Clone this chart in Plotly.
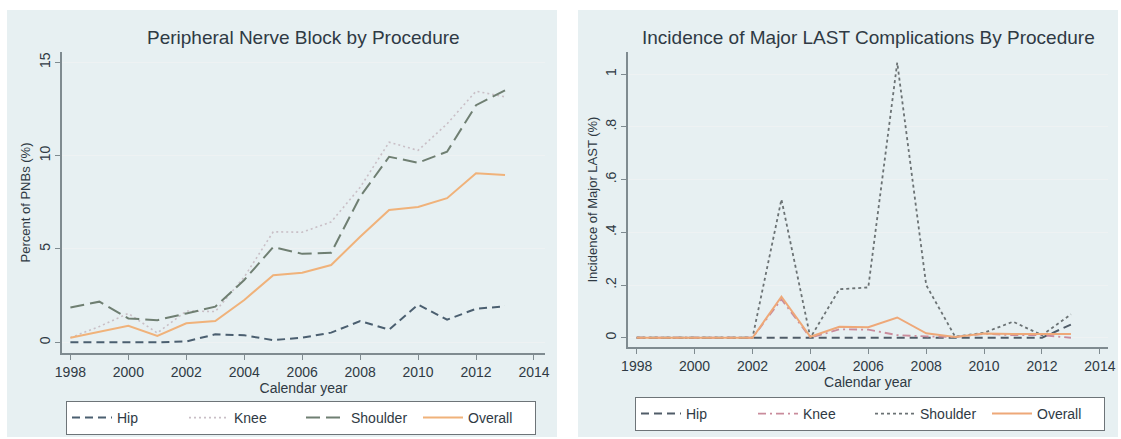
import plotly.graph_objects as go

W, H = 1121, 439

years = list(range(1998, 2014))

# Peripheral nerve block use by procedure (% of cases)
pnb_hip = [0, 0, 0, 0, 0.05, 0.43, 0.38, 0.12, 0.25, 0.52, 1.14, 0.68, 2.02, 1.21, 1.8, 1.93]
pnb_knee = [0.25, 0.85, 1.55, 0.5, 1.68, 1.65, 3.5, 5.92, 5.9, 6.45, 8.3, 10.72, 10.28, 11.7, 13.45, 13.15]
pnb_shoulder = [1.87, 2.18, 1.28, 1.19, 1.55, 1.91, 3.34, 5.1, 4.74, 4.8, 7.8, 9.94, 9.62, 10.21, 12.7, 13.5]
pnb_overall = [0.25, 0.57, 0.89, 0.34, 1.02, 1.14, 2.27, 3.6, 3.73, 4.14, 5.66, 7.09, 7.25, 7.72, 9.06, 8.96]

# Incidence of major LAST complications by procedure (%)
last_hip = [0, 0, 0, 0, 0, 0, 0, 0, 0, 0, 0, 0, 0, 0, 0, 0.05]
last_knee = [0, 0, 0, 0, 0, 0.146, 0, 0.032, 0.031, 0.01, 0.005, 0.003, 0.015, 0.01, 0.01, 0]
last_shoulder = [0, 0, 0, 0, 0, 0.525, 0, 0.184, 0.191, 1.044, 0.2, 0.004, 0.019, 0.061, 0.01, 0.089]
last_overall = [0, 0, 0, 0, 0, 0.156, 0.004, 0.042, 0.04, 0.077, 0.017, 0.003, 0.016, 0.014, 0.014, 0.014]

xticks = list(range(1998, 2015, 2))
left_yticks = [0, 5, 10, 15]
right_yticks = [0, 0.2, 0.4, 0.6, 0.8, 1.0]
right_yticktext = ["0", ".2", ".4", ".6", ".8", "1"]

FONT = "Liberation Sans, Arial, sans-serif"
TXT = "#2f3a44"
PANEL_BG = "#e7f0f2"
AXIS = "#7f8b90"
GRID = "#eef2f3"


def px(x):
    return x / W


def py(y):
    return 1 - y / H


fig = go.Figure()

left = [
    ("Hip", pnb_hip, "#4b5f70", "8px,5px", 2),
    ("Knee", pnb_knee, "#c9bfc6", "2px,3px", 1.6),
    ("Shoulder", pnb_shoulder, "#6f7f72", "14px,6px", 2),
    ("Overall", pnb_overall, "#f0b27a", "solid", 2),
]
for name, vals, color, dash, w in left:
    fig.add_trace(go.Scatter(
        x=years, y=vals, name=name, mode="lines",
        line=dict(color=color, dash=dash, width=w),
        xaxis="x", yaxis="y", legend="legend",
    ))

right = [
    ("Hip", last_hip, "#505c68", "8px,5px", 2),
    ("Knee", last_knee, "#c98c9c", "8px,4px,2px,4px", 1.8),
    ("Shoulder", last_shoulder, "#6b7274", "3px,3px", 1.8),
    ("Overall", last_overall, "#eea878", "solid", 2),
]
for name, vals, color, dash, w in right:
    fig.add_trace(go.Scatter(
        x=years, y=vals, name=name, mode="lines",
        line=dict(color=color, dash=dash, width=w),
        xaxis="x2", yaxis="y2", legend="legend2",
    ))

axis_common = dict(
    showline=True, linecolor=AXIS, linewidth=1.5,
    ticks="outside", ticklen=5, tickcolor=AXIS, tickwidth=1.3,
    tickfont=dict(family=FONT, size=14, color=TXT),
    zeroline=False,
)

legend_common = dict(
    orientation="h", xanchor="left", yanchor="top",
    bgcolor="white", bordercolor="#6d7478", borderwidth=1,
    font=dict(size=14, color=TXT), entrywidth=62, itemwidth=40,
)

fig.update_layout(
    width=W, height=H, autosize=False,
    margin=dict(l=0, r=0, t=0, b=0, autoexpand=False),
    paper_bgcolor="white", plot_bgcolor="white",
    font=dict(family=FONT, color=TXT),
    xaxis=dict(
        domain=[px(62), px(545)], range=[1997.71, 2014.38],
        tickvals=xticks, showgrid=False, anchor="y",
        title=dict(text="Calendar year", font=dict(size=14), standoff=1),
        **axis_common,
    ),
    yaxis=dict(
        domain=[py(353), py(52)], range=[-0.57, 15.55],
        tickvals=left_yticks, tickangle=-90, anchor="x",
        showgrid=True, gridcolor=GRID, gridwidth=1,
        title=dict(text="Percent of PNBs (%)", font=dict(size=13), standoff=3),
        **axis_common,
    ),
    xaxis2=dict(
        domain=[px(628), px(1108)], range=[1997.7, 2014.28],
        tickvals=xticks, showgrid=False, anchor="y2",
        title=dict(text="Calendar year", font=dict(size=14), standoff=1),
        **axis_common,
    ),
    yaxis2=dict(
        domain=[py(347), py(52)], range=[-0.035, 1.084],
        tickvals=right_yticks, ticktext=right_yticktext, tickangle=-90,
        anchor="x2", showgrid=True, gridcolor=GRID, gridwidth=1,
        title=dict(text="Incidence of Major LAST (%)", font=dict(size=13), standoff=2),
        **axis_common,
    ),
    legend=dict(x=px(66), y=py(401), **legend_common),
    legend2=dict(x=px(635), y=py(397), **legend_common),
    shapes=[
        dict(type="rect", xref="paper", yref="paper", layer="below",
             x0=px(7), x1=px(557), y0=py(437), y1=py(10),
             fillcolor=PANEL_BG, line=dict(width=0)),
        dict(type="rect", xref="paper", yref="paper", layer="below",
             x0=px(578), x1=px(1118), y0=py(437), y1=py(10),
             fillcolor=PANEL_BG, line=dict(width=0)),
    ],
    annotations=[
        dict(text="Peripheral Nerve Block by Procedure", x=px(303), y=py(37),
             xref="paper", yref="paper", showarrow=False,
             xanchor="center", yanchor="middle",
             font=dict(size=19, color=TXT)),
        dict(text="Incidence of Major LAST Complications By Procedure", x=px(868), y=py(37),
             xref="paper", yref="paper", showarrow=False,
             xanchor="center", yanchor="middle",
             font=dict(size=19, color=TXT)),
    ],
)

fig.write_html("out.html")
